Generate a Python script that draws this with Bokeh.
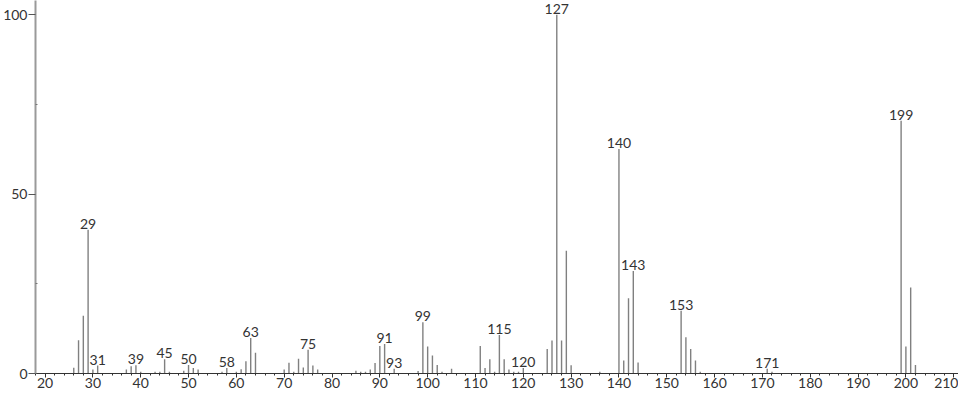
from bokeh.plotting import figure
from bokeh.models import ColumnDataSource, LabelSet, FixedTicker, SingleIntervalTicker, Range1d
from bokeh.core.properties import value
from bokeh.embed import file_html
from bokeh.resources import INLINE

mz = [26, 27, 28, 29, 30, 31, 37, 38, 39, 40, 43, 44, 45, 46, 49, 50, 51, 52, 57, 58,
      60, 61, 62, 63, 64, 70, 71, 72, 73, 74, 75, 76, 77, 85, 86, 87, 88, 89, 90, 91,
      93, 98, 99, 100, 101, 102, 103, 105, 111, 112, 113, 114, 115, 116, 117, 118, 119, 120,
      125, 126, 127, 128, 129, 130, 136, 140, 141, 142, 143, 144, 153, 154, 155, 156, 157,
      171, 172, 199, 200, 201, 202]
intensity = [1.6, 9.3, 16.1, 40.1, 1.1, 2.2, 1.1, 2.0, 2.3, 0.5, 0.5, 0.5, 4.0, 0.5, 0.8, 2.4, 1.5, 1.1, 0.5, 1.5,
             0.5, 1.2, 3.4, 9.9, 5.8, 1.1, 3.0, 0.5, 4.1, 1.7, 6.6, 2.2, 1.1, 0.8, 0.5, 0.5, 1.1, 2.9, 7.7, 8.2,
             1.3, 0.7, 14.3, 7.5, 5.0, 2.4, 0.5, 1.3, 7.7, 1.5, 4.0, 0.5, 10.7, 4.0, 1.1, 0.5, 0.5, 1.5,
             6.8, 9.2, 100.0, 9.2, 34.2, 2.3, 0.5, 62.6, 3.6, 21.0, 28.6, 3.1, 17.5, 10.1, 6.8, 3.6, 0.5,
             1.3, 0.5, 70.5, 7.5, 24.0, 2.4]
labeled_mz = [29, 31, 39, 45, 50, 58, 63, 75, 91, 93, 99, 115, 120, 127, 140, 143, 153, 171, 199]

y_ticks = [0, 50, 100]
y_minor_ticks = [25, 75]

lookup = dict(zip(mz, intensity))
lab_y = [lookup[m] for m in labeled_mz]
lab_text = [str(m) for m in labeled_mz]

src = ColumnDataSource(dict(x=mz, y0=[0] * len(mz), y1=intensity))
lab_src = ColumnDataSource(dict(x=labeled_mz, y=lab_y, t=lab_text))

p = figure(width=958, height=390, output_backend="svg", toolbar_location=None,
           x_range=Range1d(18.0, 211.0), y_range=Range1d(0, 104.0),
           min_border_left=0, min_border_right=0, min_border_top=0, min_border_bottom=0)
p.outline_line_color = None
p.xgrid.visible = False
p.ygrid.visible = False
p.background_fill_color = "white"

p.segment(x0="x", y0="y0", x1="x", y1="y1", source=src, line_color="#808080", line_width=1.4)

labels = LabelSet(x="x", y="y", text="t", source=lab_src, text_align="center",
                  text_baseline="bottom", y_offset=1, text_font=value("Lato"),
                  text_font_size="14px", text_color="#333333")
p.add_layout(labels)

xa = p.xaxis[0]
xa.ticker = SingleIntervalTicker(interval=10, num_minor_ticks=5)
xa.axis_line_color = "#333333"
xa.major_tick_line_color = "#333333"
xa.minor_tick_line_color = "#333333"
xa.major_tick_out = 4
xa.major_tick_in = 0
xa.minor_tick_out = 2
xa.minor_tick_in = 0
xa.major_label_standoff = 0
xa.major_label_text_font = "Lato"
xa.major_label_text_font_size = "14px"
xa.major_label_text_color = "#333333"

ya = p.yaxis[0]
ya.ticker = FixedTicker(ticks=y_ticks, minor_ticks=y_minor_ticks)
ya.axis_line_color = "#9a9a9a"
ya.axis_line_width = 2
ya.major_tick_line_color = "#555555"
ya.minor_tick_line_color = "#777777"
ya.major_tick_out = 7
ya.major_tick_in = 0
ya.minor_tick_out = 0
ya.minor_tick_in = 2
ya.major_label_standoff = 1
ya.major_label_text_font = "Lato"
ya.major_label_text_font_size = "14px"
ya.major_label_text_color = "#333333"

open("out.html", "w").write(file_html(p, INLINE))
